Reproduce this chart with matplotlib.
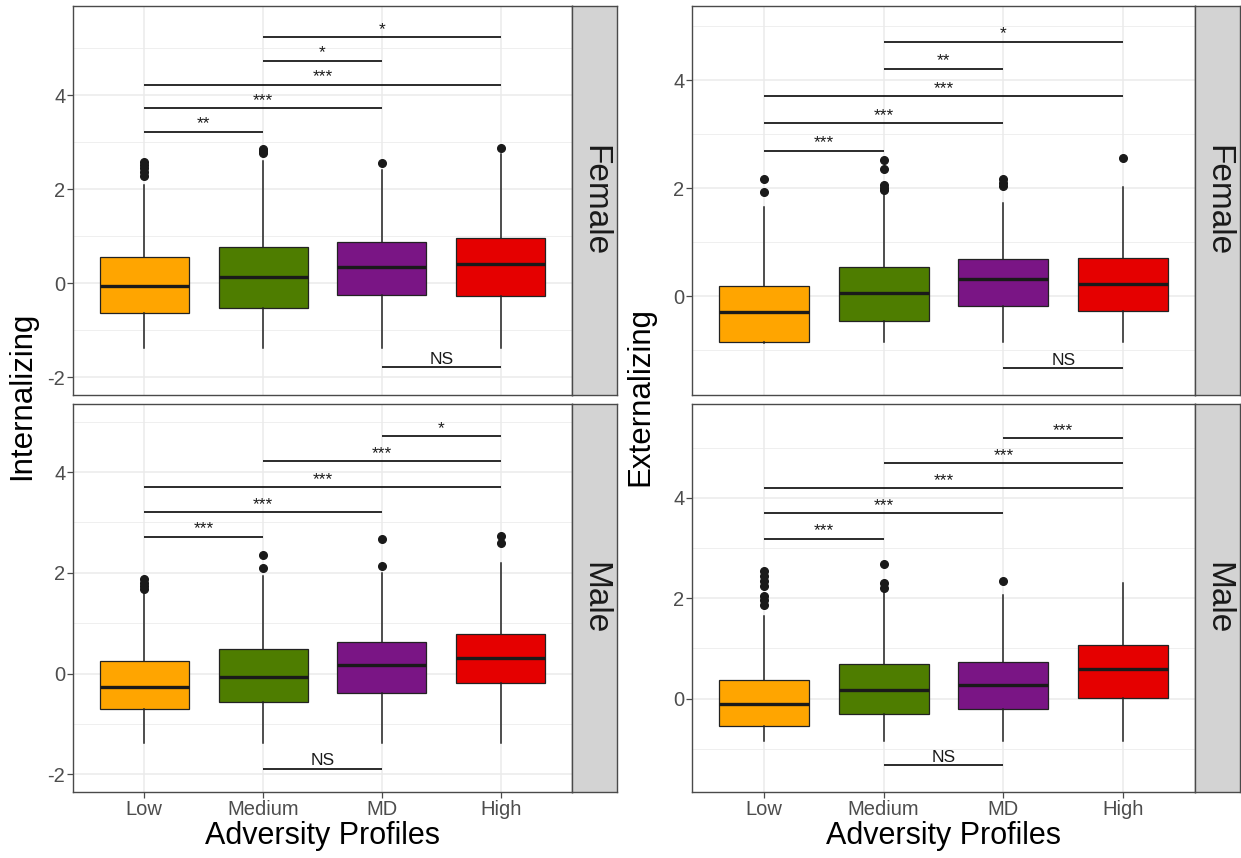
import matplotlib
matplotlib.use('Agg')
import matplotlib.pyplot as plt
import numpy as np

plt.rcParams['font.family'] = ['Liberation Sans', 'DejaVu Sans']
plt.rcParams['axes.unicode_minus'] = False

profiles = ['Low', 'Medium', 'MD', 'High']
colours = ['#FFA500', '#4E7D00', '#7A1585', '#E50000']

# Internalizing, Female
int_f_q1 = [-0.64, -0.53, -0.25, -0.28]
int_f_med = [-0.07, 0.13, 0.35, 0.40]
int_f_q3 = [0.55, 0.77, 0.87, 0.97]
int_f_lo = [-1.37, -1.37, -1.37, -1.37]
int_f_hi = [2.10, 2.60, 2.41, 2.75]
int_f_out = [[2.28, 2.36, 2.45, 2.52, 2.58], [2.77, 2.82, 2.86], [2.55], [2.88]]

# Internalizing, Male
int_m_q1 = [-0.71, -0.57, -0.38, -0.19]
int_m_med = [-0.26, -0.07, 0.17, 0.31]
int_m_q3 = [0.24, 0.49, 0.63, 0.78]
int_m_lo = [-1.37, -1.37, -1.37, -1.37]
int_m_hi = [1.65, 1.93, 2.00, 2.19]
int_m_out = [[1.68, 1.74, 1.80, 1.87], [2.09, 2.36], [2.14, 2.67], [2.60, 2.73]]

# Externalizing, Female
ext_f_q1 = [-0.85, -0.46, -0.18, -0.27]
ext_f_med = [-0.30, 0.05, 0.31, 0.22]
ext_f_q3 = [0.19, 0.53, 0.69, 0.70]
ext_f_lo = [-0.86, -0.84, -0.84, -0.84]
ext_f_hi = [1.65, 1.93, 1.72, 2.02]
ext_f_out = [[1.93, 2.16], [1.97, 2.01, 2.05, 2.36, 2.52], [2.04, 2.10, 2.16], [2.55]]

# Externalizing, Male
ext_m_q1 = [-0.54, -0.31, -0.21, 0.01]
ext_m_med = [-0.10, 0.18, 0.28, 0.59]
ext_m_q3 = [0.38, 0.70, 0.72, 1.06]
ext_m_lo = [-0.85, -0.85, -0.85, -0.85]
ext_m_hi = [1.65, 2.15, 2.06, 2.30]
ext_m_out = [[1.87, 1.97, 2.04, 2.24, 2.34, 2.44, 2.55], [2.20, 2.30, 2.69], [2.34], []]

# significance brackets: (from group, to group, height, label)
int_f_sig = [(1, 2, 3.22, '**'), (1, 3, 3.72, '***'), (1, 4, 4.22, '***'),
             (2, 3, 4.73, '*'), (2, 4, 5.23, '*'), (3, 4, -1.79, 'NS')]
int_m_sig = [(1, 2, 2.72, '***'), (1, 3, 3.20, '***'), (1, 4, 3.70, '***'),
             (2, 4, 4.21, '***'), (3, 4, 4.71, '*'), (2, 3, -1.89, 'NS')]
ext_f_sig = [(1, 2, 2.69, '***'), (1, 3, 3.20, '***'), (1, 4, 3.70, '***'),
             (2, 3, 4.21, '**'), (2, 4, 4.71, '*'), (3, 4, -1.33, 'NS')]
ext_m_sig = [(1, 2, 3.19, '***'), (1, 3, 3.69, '***'), (1, 4, 4.19, '***'),
             (2, 4, 4.69, '***'), (3, 4, 5.19, '***'), (2, 3, -1.33, 'NS')]

W, H = 1241, 858
fig = plt.figure(figsize=(W / 100, H / 100), dpi=100)
fig.patch.set_facecolor('white')

BORDER = '#4a4a4a'


def px_axes(x0, y0, x1, y1, **kw):
    return fig.add_axes([x0 / W, 1 - y1 / H, (x1 - x0) / W, (y1 - y0) / H], **kw)


def facet(ax, q1, med, q3, lo, hi, out, sig, ylim, bottom):
    stats = []
    for i in range(len(profiles)):
        stats.append(dict(q1=q1[i], med=med[i], q3=q3[i], whislo=lo[i],
                          whishi=hi[i], fliers=out[i], label=profiles[i]))
    ax.set_axisbelow(True)
    bp = ax.bxp(stats, positions=range(1, 5), widths=0.75, patch_artist=True,
                showcaps=False,
                boxprops=dict(edgecolor='#222222', linewidth=0.9),
                medianprops=dict(color='#1a1a1a', linewidth=2.4),
                whiskerprops=dict(color='#222222', linewidth=1.1),
                flierprops=dict(marker='o', markerfacecolor='#1a1a1a',
                                markeredgecolor='#1a1a1a', markersize=5.5))
    for patch, c in zip(bp['boxes'], colours):
        patch.set_facecolor(c)
    for a, b, y, lab in sig:
        ax.plot([a, b], [y, y], color='#1a1a1a', lw=1.3, solid_capstyle='butt')
        ax.annotate(lab, xy=((a + b) / 2, y), xytext=(0, 2.5),
                    textcoords='offset points', ha='center', va='baseline',
                    fontsize=12.5, color='#1a1a1a')
    ax.set_xlim(0.4, 4.6)
    ax.set_ylim(*ylim)
    ax.set_yticks([t for t in [-2, 0, 2, 4] if ylim[0] <= t <= ylim[1]])
    ax.set_yticks([t for t in [-3, -1, 1, 3, 5] if ylim[0] <= t <= ylim[1]], minor=True)
    ax.set_xticks(range(1, 5))
    ax.grid(which='major', color='#EBEBEB', lw=1.1)
    ax.grid(which='minor', axis='y', color='#EBEBEB', lw=0.55)
    ax.tick_params(which='minor', length=0)
    ax.tick_params(which='major', length=4, width=0.9, color=BORDER,
                   labelsize=14.5, labelcolor='#4D4D4D', pad=1.5)
    for s in ax.spines.values():
        s.set_color(BORDER)
        s.set_linewidth(1.0)
    if bottom:
        ax.set_xticklabels(profiles)
    else:
        ax.tick_params(axis='x', length=0, labelbottom=False)


def strip(x0, y0, x1, y1, label):
    sax = px_axes(x0, y0, x1, y1)
    sax.set_facecolor('#D3D3D3')
    sax.set_xticks([])
    sax.set_yticks([])
    for s in sax.spines.values():
        s.set_color(BORDER)
        s.set_linewidth(1.0)
    sax.text(0.5, 0.5, label, rotation=-90, ha='center', va='center',
             fontsize=24, color='#1a1a1a', transform=sax.transAxes)


# left panel: Internalizing
ax = px_axes(73, 6, 572, 395)
facet(ax, int_f_q1, int_f_med, int_f_q3, int_f_lo, int_f_hi, int_f_out,
      int_f_sig, (-2.38, 5.9), False)
strip(572, 6, 617, 395, 'Female')
ax = px_axes(73, 404, 572, 792)
facet(ax, int_m_q1, int_m_med, int_m_q3, int_m_lo, int_m_hi, int_m_out,
      int_m_sig, (-2.35, 5.35), True)
ax.set_xlabel('Adversity Profiles', fontsize=22, labelpad=2)
strip(572, 404, 617, 792, 'Male')
fig.text(22 / W, 1 - 396 / H, 'Internalizing', rotation=90, ha='center',
         va='center', fontsize=22.5)

# right panel: Externalizing
ax = px_axes(692, 6, 1195, 395)
facet(ax, ext_f_q1, ext_f_med, ext_f_q3, ext_f_lo, ext_f_hi, ext_f_out,
      ext_f_sig, (-1.83, 5.37), False)
strip(1195, 6, 1240, 395, 'Female')
ax = px_axes(692, 404, 1195, 792)
facet(ax, ext_m_q1, ext_m_med, ext_m_q3, ext_m_lo, ext_m_hi, ext_m_out,
      ext_m_sig, (-1.86, 5.87), True)
ax.set_xlabel('Adversity Profiles', fontsize=22, labelpad=2)
strip(1195, 404, 1240, 792, 'Male')
fig.text(640 / W, 1 - 396 / H, 'Externalizing', rotation=90, ha='center',
         va='center', fontsize=22.5)

fig.savefig('out.png', dpi=100)
